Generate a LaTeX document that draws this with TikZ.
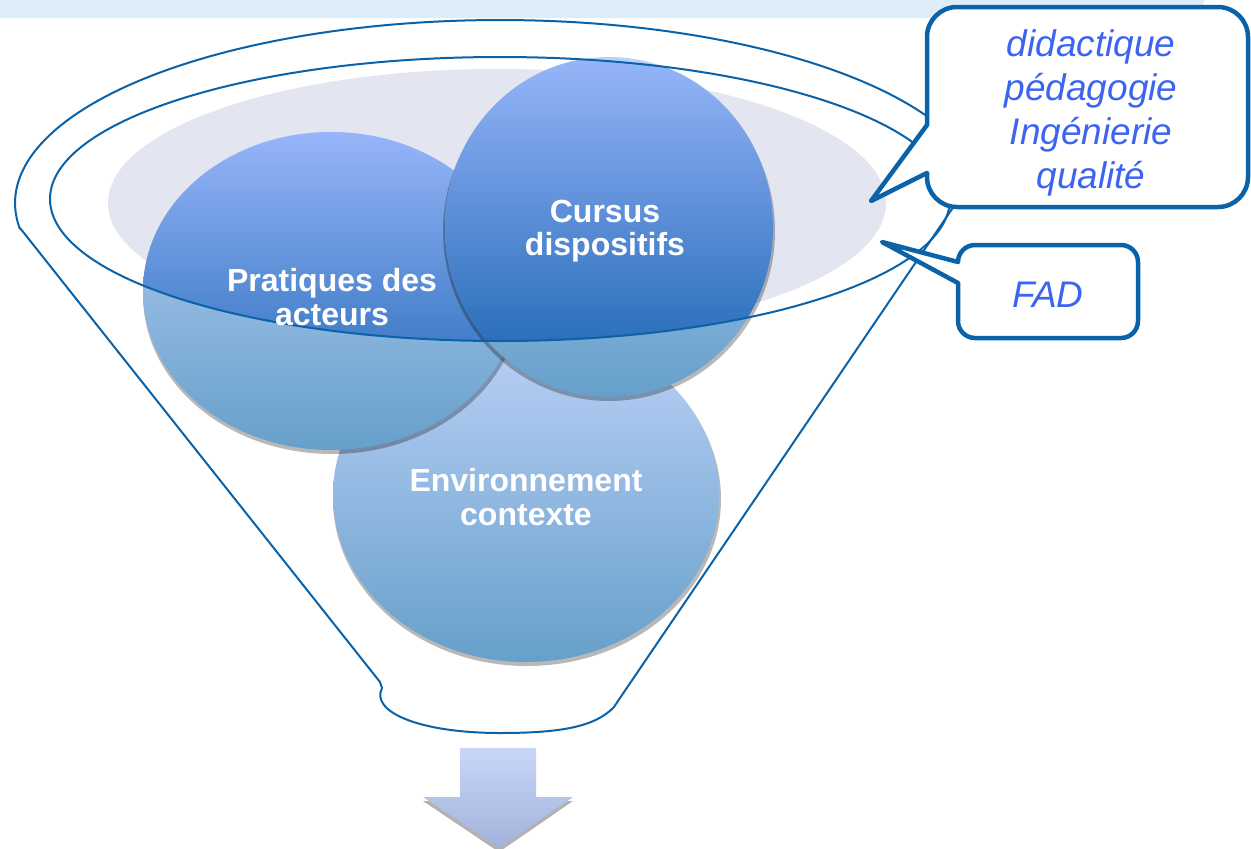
\documentclass[tikz,border=0pt]{standalone}
\usepackage{fontspec}
\setmainfont{Liberation Sans}
\definecolor{fline}{HTML}{0A62A8}
\definecolor{ctext}{HTML}{3C64F0}
\definecolor{bandc}{HTML}{DDEEF8}
\definecolor{greyell}{HTML}{E3E6F0}
\definecolor{lighttop}{HTML}{BDD1F8}
\definecolor{lightbot}{HTML}{66A0CA}
\definecolor{sattop}{HTML}{97B5F9}
\definecolor{satbot}{HTML}{1662AF}
\definecolor{arrtop}{HTML}{C8D6F8}
\definecolor{arrbot}{HTML}{A2B2DA}
\tikzset{
  funnelline/.style={draw=fline, line width=2pt},
  lightfill/.style={top color=lighttop, bottom color=lightbot},
  satfill/.style={top color=sattop, bottom color=satbot},
  shadowfill/.style={fill=black, opacity=0.28},
  lbl/.style={text=white, font=\fontsize{32}{33.5}\selectfont\bfseries, align=center, inner sep=0pt},
  ctxt/.style={text=ctext, font=\fontsize{37}{44}\selectfont\itshape, align=center, inner sep=0pt},
  cbox/.style={draw=fline, line width=4.5pt, fill=white},
  ctail/.style={draw=fline, line width=4.5pt, line join=round, line cap=round},
}
\begin{document}
\begin{tikzpicture}[x=1pt,y=-1pt]
\useasboundingbox (0,0) rectangle (1251,849);
\fill[white] (0,0) rectangle (1251,849);
% top band
\fill[bandc] (0,0) -- (1205,0) -- (1195,18) -- (0,18) -- cycle;
% grey opening
\fill[greyell] (497,203) ellipse [x radius=389pt, y radius=134pt];
% Environnement
\fill[shadowfill] (527,499) ellipse [x radius=194pt, y radius=167pt];
\shade[lightfill] (526,495) ellipse [x radius=193pt, y radius=167pt];
\begin{scope}
  \clip (500,199) ellipse [x radius=450pt, y radius=142pt];
  \shade[satfill] (526,495) ellipse [x radius=193pt, y radius=167pt];
\end{scope}
% Pratiques
\fill[shadowfill] (332,295) ellipse [x radius=189pt, y radius=159pt];
\shade[lightfill] (331,291) ellipse [x radius=188pt, y radius=159pt];
\begin{scope}
  \clip (500,199) ellipse [x radius=450pt, y radius=142pt];
  \shade[satfill] (331,291) ellipse [x radius=188pt, y radius=159pt];
\end{scope}
% Cursus
\fill[shadowfill] (609,231) ellipse [x radius=166pt, y radius=170pt];
\shade[lightfill] (609,227) ellipse [x radius=164pt, y radius=170pt];
\begin{scope}
  \clip (500,199) ellipse [x radius=450pt, y radius=142pt];
  \shade[satfill] (609,227) ellipse [x radius=164pt, y radius=170pt];
\end{scope}
% inner rim
\draw[funnelline] (500,199) ellipse [x radius=450pt, y radius=142pt];
% labels
\node[lbl] (prat) at (332,297) {Pratiques des\\acteurs};
\node[lbl] (curs) at (605,231) {Cursus\\dispositifs};
\node[lbl] (envi) at (526,497) {Environnement\\contexte};
% funnel outline
\draw[funnelline, line join=round] (380,682) -- (20,228)
  -- plot[domain=171.9:350, samples=120] ({500+485*cos(\x)},{203+183*sin(\x)})
  -- (620,698) -- (614,707)
  .. controls (595,727) and (560,733) .. (500,733)
  .. controls (420,733) and (370,712) .. (382,688) -- cycle;
% callout 1
\draw[cbox, rounded corners=30pt] (927,7) rectangle (1248,207);
\fill[white] (922,125) rectangle (932,173);
\fill[white] (927,125) -- (871,201) -- (927,173) -- cycle;
\draw[ctail] (927,125) -- (871,201) -- (927,173);
\node[ctxt] (c1) at (1091,113) {didactique\\pédagogie\\Ingénierie\\qualité};
% callout 2
\draw[cbox, rounded corners=17pt] (958,245) rectangle (1138,338);
\fill[white] (953,262) rectangle (963,283);
\fill[white] (958,262) -- (882,242) -- (958,283) -- cycle;
\draw[ctail] (958,262) -- (882,242) -- (958,283);
\node[ctxt] (fad) at (1048,294.5) {FAD};
% down arrow
\fill[black!30] (423,801) -- (573,801) -- (499,852) -- cycle;
\shade[top color=arrtop, bottom color=arrbot] (460,748) -- (536,748) -- (536,797) -- (573,797) -- (499,848) -- (423,797) -- (460,797) -- cycle;
\end{tikzpicture}
\end{document}
